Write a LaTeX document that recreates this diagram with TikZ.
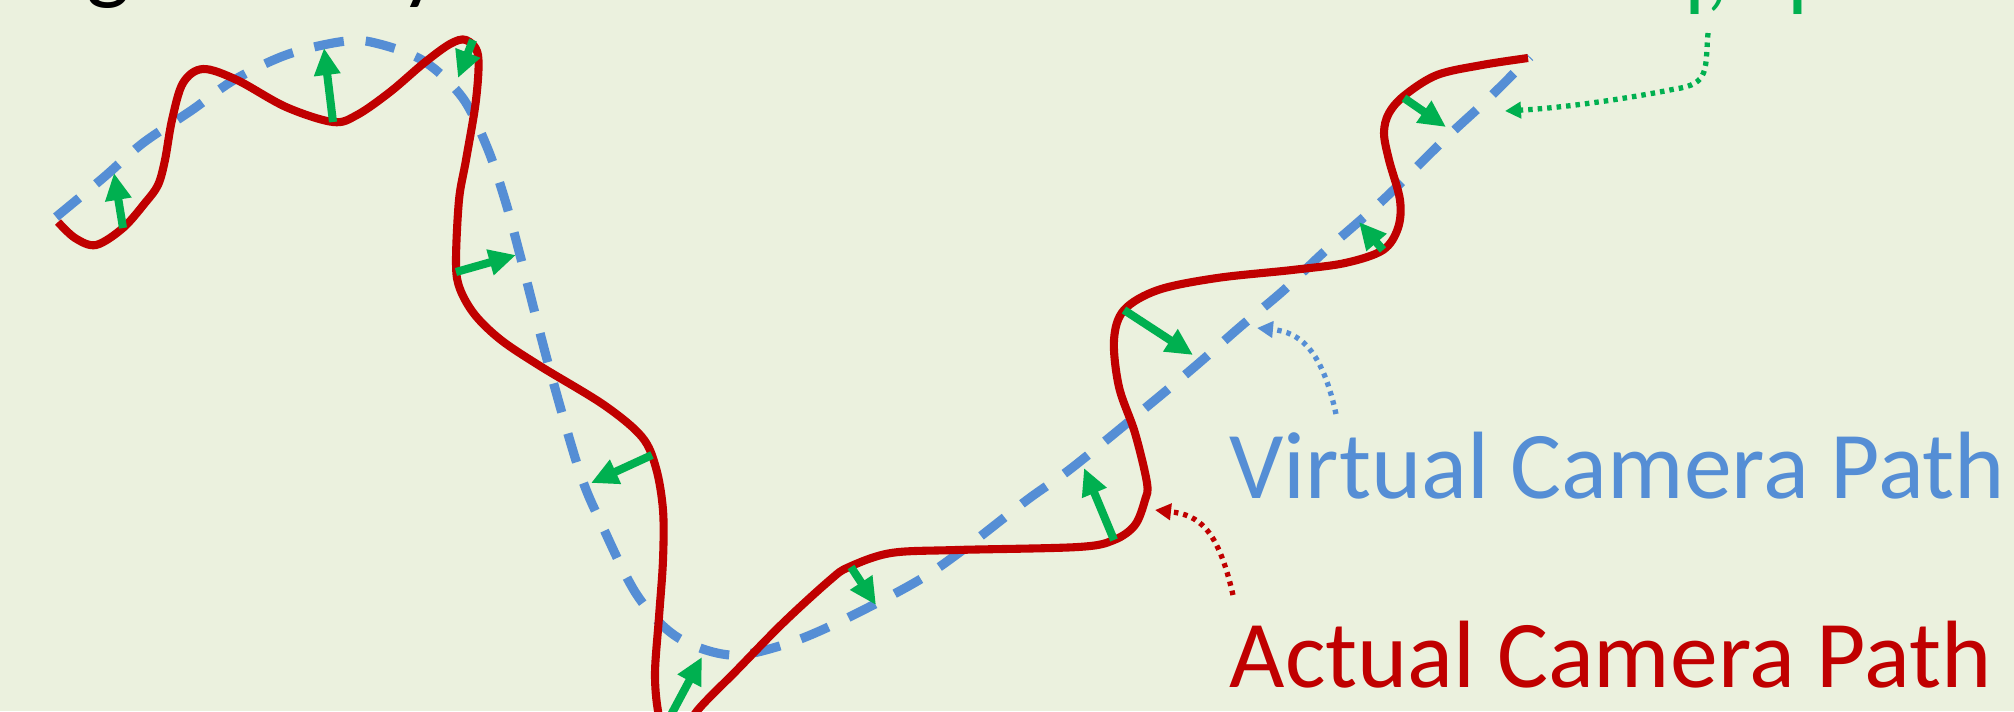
\documentclass[tikz,border=0pt]{standalone}
\usepackage{fontspec}
\setmainfont{Carlito}
\usetikzlibrary{arrows.meta}
\definecolor{bg}{HTML}{EBF1DE}
\definecolor{actred}{HTML}{C00000}
\definecolor{virtblue}{HTML}{558ED5}
\definecolor{corrgreen}{HTML}{00B050}
\begin{document}
\begin{tikzpicture}[x=0.01cm,y=-0.01cm,
  actual/.style={draw=actred,line width=2.3pt,line join=round},
  virtual/.style={draw=virtblue,line width=2.6pt,dash pattern=on 0.30cm off 0.22cm},
  corr/.style={draw=corrgreen,line width=2.3pt,-{Triangle[length=0.27cm,width=0.25cm]}},
  pointer/.style={line width=1.5pt,dash pattern=on 0.045cm off 0.05cm,-{Triangle[length=0.16cm,width=0.16cm]}},
  lbl/.style={inner sep=0,anchor=base west,font=\fontsize{27.2}{31}\selectfont},
  frag/.style={inner sep=0,anchor=base west,font=\fontsize{26.5}{30}\selectfont},
]
\useasboundingbox (0,0) rectangle (2014,711);
\fill[bg] (0,0) rectangle (2014,711);
\clip (0,0) rectangle (2014,711);

% cut-off texts at the top edge
\node[frag,text=black] (tg) at (86,-8) {g};
\node[frag,text=black] (ty) at (400,-8) {y};
\node[frag,text=corrgreen] (tq) at (1656,-1) {q,};
\node[frag,text=corrgreen] (tp) at (1787,-1) {p};

% virtual camera path
\draw[virtual] plot[smooth,tension=0.55] coordinates {
 (56,217) (103,178) (143,143) (192,110) (234,80) (286,55) (339,42) (371,42)
 (422,60) (462,97) (487,147) (505,200) (520,255) (548,363) (579,470) (601,523)
 (637,595) (677,637) (730,655) (783,645) (837,623) (914,583) (960,552) (1027,500)
 (1073,467) (1155,400) (1199,363) (1240,327) (1284,290) (1324,252) (1383,200)
 (1446,138) (1487,100) (1530,57)};

% actual camera path
\draw[actual] plot[smooth,tension=0.55] coordinates {
 (58,222) (75,238) (96,245) (123,228) (145,203) (158,185) (165,160) (172,120)
 (183,83) (203,69) (237,80) (286,107) (333,122) (357,115) (390,92) (424,63)
 (450,44) (466,40) (478,55) (476,100) (466,160) (459,200) (456,263) (460,289)
 (475,315) (501,340) (540,366) (604,405) (642,437) (656,468) (663,510) (663,560)
 (659,617) (655,673) (658,711) (666,738) (682,738) (697,711) (737,670) (783,623)
 (830,580) (849,567) (891,553) (956,550) (1078,547) (1114,540) (1135,525)
 (1145,500) (1147,483) (1135,433) (1119,387) (1114,340) (1124,310) (1158,290)
 (1217,278) (1292,270) (1345,263) (1383,250) (1398,228) (1400,200) (1389,160)
 (1384,133) (1389,113) (1405,95) (1437,75) (1482,65) (1528,58)};

% correction arrows
\coordinate (a1s) at (123,228);  \coordinate (a1e) at (114,173);
\coordinate (a2s) at (333,122);  \coordinate (a2e) at (324,48);
\coordinate (a3s) at (473,40);   \coordinate (a3e) at (458,78);
\coordinate (a4s) at (456,272);  \coordinate (a4e) at (516,255);
\coordinate (a5s) at (652,455);  \coordinate (a5e) at (591,483);
\coordinate (a6s) at (664,728);  \coordinate (a6e) at (702,657);
\coordinate (a7s) at (851,567);  \coordinate (a7e) at (876,605);
\coordinate (a8s) at (1114,540); \coordinate (a8e) at (1084,468);
\coordinate (a9s) at (1124,310); \coordinate (a9e) at (1193,355);
\coordinate (a10s) at (1383,250); \coordinate (a10e) at (1359,222);
\coordinate (a11s) at (1404,98); \coordinate (a11e) at (1446,127);
\foreach \i in {1,...,11}{\draw[corr] (a\i s) -- (a\i e);}

% labels
\node[lbl,text=virtblue] (vlabel) at (1229,498) {Virtual Camera Path};
\node[lbl,text=actred] (alabel) at (1229,687) {Actual Camera Path};

% dotted pointers
\coordinate (gp1) at (1708,33);  \coordinate (gp2) at (1505,111);
\draw[pointer,corrgreen] (gp1) .. controls (1705,70) and (1710,84) .. (1675,89)
  .. controls (1620,100) and (1560,108) .. (gp2);
\coordinate (bp1) at (1336,414); \coordinate (bp2) at (1257,328);
\draw[pointer,virtblue] (bp1) .. controls (1322,350) and (1300,332) .. (bp2);
\coordinate (rp1) at (1233,595); \coordinate (rp2) at (1155,510);
\draw[pointer,actred] (rp1) .. controls (1218,530) and (1200,515) .. (rp2);
\end{tikzpicture}
\end{document}
